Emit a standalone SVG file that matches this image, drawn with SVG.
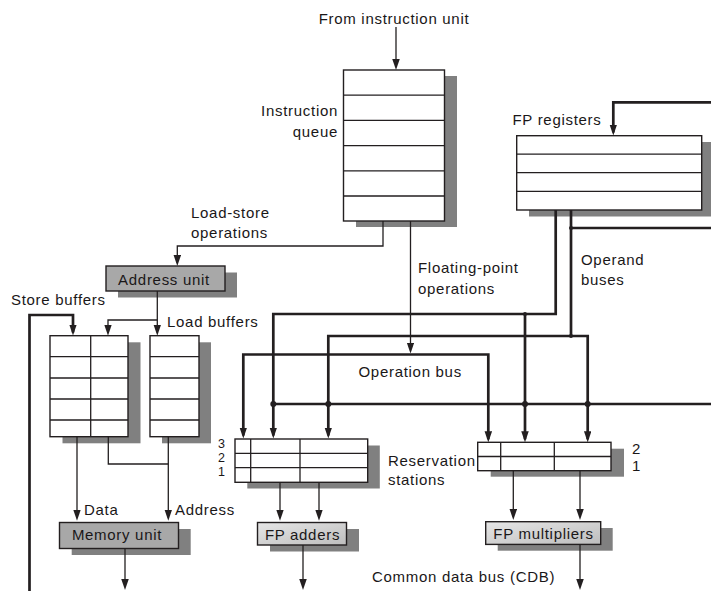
<svg xmlns="http://www.w3.org/2000/svg" width="711" height="591" viewBox="0 0 711 591">
<defs>
<marker id="ah" markerUnits="userSpaceOnUse" markerWidth="11" markerHeight="8" refX="8" refY="3.75" orient="auto-start-reverse">
<path d="M0,0 L11,3.75 L0,7.5 z" fill="#231f20"/>
</marker>
<linearGradient id="fpg" x1="0" y1="0" x2="1" y2="1">
<stop offset="0" stop-color="#e6e6e6"/>
<stop offset="1" stop-color="#bdbdbd"/>
</linearGradient>
<style>
text{font-family:"Liberation Sans",Arial,Helvetica,sans-serif;font-size:15px;letter-spacing:0.7px;fill:#1a1718}
.mid{text-anchor:middle}
.end{text-anchor:end}
.num{font-size:12.5px;letter-spacing:0}
.sh{fill:#808080;stroke:none}
.box{fill:#fff;stroke:#231f20;stroke-width:1.4}
.unit{fill:#a8a8a8;stroke:#231f20;stroke-width:1.4}
.fpu{fill:url(#fpg);stroke:#231f20;stroke-width:1.4}
.div{stroke:#231f20;stroke-width:1.3;fill:none}
.thin{stroke:#231f20;stroke-width:1.3;fill:none}
.thick{stroke:#231f20;stroke-width:2.7;fill:none}
.arr{marker-end:url(#ah)}
.dot{fill:#231f20}
</style>
</defs>

<g id="instruction-queue">
<rect class="sh" x="356" y="76" width="101" height="151"/>
<rect class="box" x="343.5" y="70" width="101" height="151"/>
<path class="div" d="M343.5,95.2H444.5M343.5,120.4H444.5M343.5,145.6H444.5M343.5,170.8H444.5M343.5,196H444.5"/>
<text class="end" x="338" y="116">Instruction</text>
<text class="end" x="338" y="137">queue</text>
</g>

<g id="fp-registers">
<rect class="sh" x="529" y="142" width="185" height="74.5"/>
<rect class="box" x="516.7" y="135.7" width="185" height="74.3"/>
<path class="div" d="M516.7,154.2H701.7M516.7,172.7H701.7M516.7,191.4H701.7"/>
<text x="512.5" y="124.5">FP registers</text>
</g>

<g id="address-unit">
<rect class="sh" x="118" y="272.5" width="119" height="25"/>
<rect class="unit" x="106" y="266" width="119" height="25"/>
<text class="mid" x="164" y="284.5">Address unit</text>
</g>

<g id="store-buffers">
<rect class="sh" x="62.5" y="342.3" width="78" height="101"/>
<rect class="box" x="50" y="335.7" width="78" height="101"/>
<path class="div" d="M90.7,335.7V436.7M50,356.7H128M50,378H128M50,399H128M50,420H128"/>
<text x="11" y="305">Store buffers</text>
</g>

<g id="load-buffers">
<rect class="sh" x="162" y="342.3" width="49" height="101"/>
<rect class="box" x="150" y="335.7" width="49" height="101"/>
<path class="div" d="M150,356.7H199M150,378H199M150,399H199M150,420H199"/>
<text x="167" y="326.5">Load buffers</text>
</g>

<g id="memory-unit">
<rect class="sh" x="71.7" y="529" width="119" height="26"/>
<rect class="unit" x="59.5" y="522.5" width="119" height="26"/>
<text class="mid" x="117" y="540">Memory unit</text>
</g>

<g id="rs-adders">
<rect class="sh" x="247.3" y="445.5" width="132.5" height="43"/>
<rect class="box" x="235" y="439" width="132.7" height="43.3"/>
<path class="div" d="M235,453.3H367.7M235,467.7H367.7M250.7,439V482.3M300,439V482.3"/>
<text class="end num" x="225" y="448">3</text>
<text class="end num" x="225" y="462">2</text>
<text class="end num" x="225" y="476">1</text>
<text x="388" y="465.5">Reservation</text>
<text x="388" y="485">stations</text>
</g>

<g id="rs-multipliers">
<rect class="sh" x="490.7" y="448.7" width="133.3" height="28"/>
<rect class="box" x="477.7" y="442.3" width="133.3" height="28.4"/>
<path class="div" d="M477.7,456.5H611M500.7,442.3V470.7M554.3,442.3V470.7"/>
<text x="632" y="453.5">2</text>
<text x="632" y="470.5">1</text>
</g>

<g id="fp-adders">
<rect class="sh" x="270" y="529" width="89" height="22.5"/>
<rect class="fpu" x="257.5" y="522.5" width="89" height="22.5"/>
<text class="mid" x="302.5" y="539.5">FP adders</text>
</g>

<g id="fp-multipliers">
<rect class="sh" x="497.7" y="528" width="115" height="22.7"/>
<rect class="fpu" x="485.7" y="521.7" width="115" height="22.7"/>
<text class="mid" x="543.5" y="539">FP multipliers</text>
</g>

<g id="labels">
<text class="mid" x="394" y="24">From instruction unit</text>
<text x="191" y="217.5">Load-store</text>
<text x="191" y="238">operations</text>
<text x="418" y="273">Floating-point</text>
<text x="418" y="294">operations</text>
<text x="581" y="265">Operand</text>
<text x="581" y="285">buses</text>
<text x="358.5" y="377">Operation bus</text>
<text x="84" y="515">Data</text>
<text x="175" y="515">Address</text>
<text x="372" y="582">Common data bus (CDB)</text>
</g>

<g id="connectors">
<path class="thin arr" d="M396,27V67"/>
<path class="thin arr" d="M383,221V246H177.3V263"/>
<path class="thin arr" d="M410.5,221V350.5"/>
<path class="thin arr" d="M157.3,291V332.7"/>
<path class="thin arr" d="M157.3,320H108V332.7"/>
<path class="thin arr" d="M77,436.7V517.7"/>
<path class="thin" d="M108.3,436.7V464H168.3"/>
<path class="thin arr" d="M168.3,436.7V517.7"/>
<path class="thin arr" d="M125,548.5V587"/>
<path class="thin arr" d="M280,482.3V517.7"/>
<path class="thin arr" d="M319,482.3V517.7"/>
<path class="thin arr" d="M303,545V587"/>
<path class="thin arr" d="M513.3,470.7V517"/>
<path class="thin arr" d="M580,470.7V517"/>
<path class="thin arr" d="M580,544.4V587"/>

<path class="thick arr" d="M29.5,591V315H73V332.5"/>
<path class="thick arr" d="M711,102.3H613.3V132.5"/>
<path class="thick arr" d="M243.3,435.5V354.5H488.3V439.3" style="marker-start:url(#ah)"/>
<path class="thick arr" d="M555.7,210V314H273.3V435.5"/>
<path class="thick arr" d="M525,314V439.3"/>
<path class="thick" d="M571,210V336"/>
<path class="thick arr" d="M328.3,435.5V336H587.7V439.3" style="marker-start:url(#ah)"/>
<path class="thick" d="M571,228H711"/>
<path class="thick" d="M711,404H273.3"/>
<circle class="dot" cx="571" cy="228" r="2"/>
<circle class="dot" cx="525" cy="314" r="2"/>
<circle class="dot" cx="571" cy="336" r="2"/>
<circle class="dot" cx="273.3" cy="404" r="3"/>
<circle class="dot" cx="328.3" cy="404" r="3"/>
<circle class="dot" cx="525" cy="404" r="3"/>
<circle class="dot" cx="587.7" cy="404" r="3"/>
</g>
</svg>
